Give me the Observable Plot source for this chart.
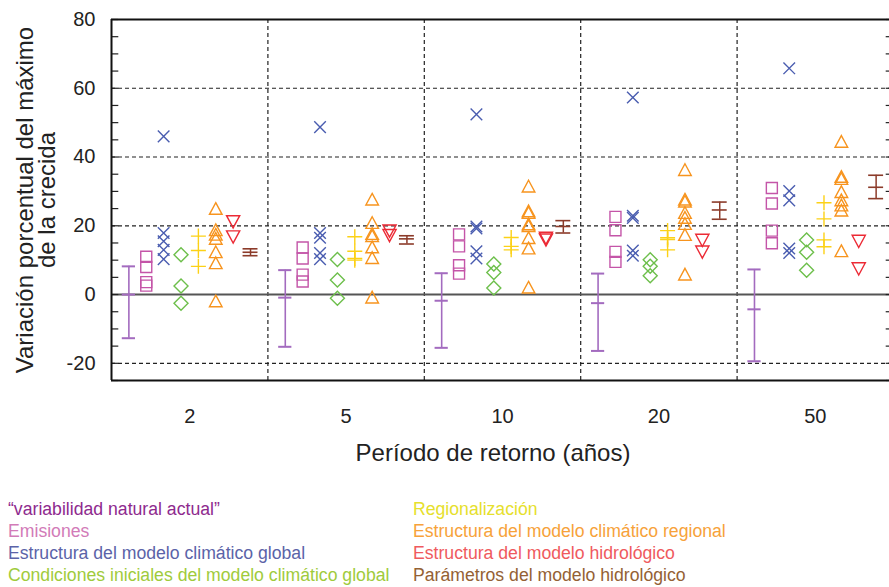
<!DOCTYPE html>
<html><head><meta charset="utf-8">
<script src="https://cdn.jsdelivr.net/npm/d3@7"></script>
<script src="https://cdn.jsdelivr.net/npm/@observablehq/plot@0.6"></script>
<style>
body{margin:0;background:#fff;}
#wrap{position:relative;width:889px;height:587px;overflow:hidden;font-family:"Liberation Sans",Arial,sans-serif;color:#222;}
#chart{position:absolute;left:0;top:0;}
#ylab{position:absolute;left:36px;top:200px;transform:translate(-50%,-50%) rotate(-90deg);white-space:nowrap;text-align:center;font-size:24px;line-height:22px;}
#xlab{position:absolute;left:493px;top:441px;transform:translateX(-50%);white-space:nowrap;font-size:24px;line-height:24px;}
.leg{position:absolute;top:498px;font-family:"Liberation Sans",Arial,sans-serif;font-size:18px;line-height:22px;white-space:nowrap;transform:scaleX(0.98);transform-origin:left top;}
</style></head><body>
<div id="wrap">
<div id="chart"></div>
<div id="ylab">Variación porcentual del máximo<br>de la crecida</div>
<div id="xlab">Período de retorno (años)</div>
<div class="leg" id="leg1" style="left:8px"></div>
<div class="leg" id="leg2" style="left:413px"></div>
</div>
<script>
// ---- data ----
const periods = ["2", "5", "10", "20", "50"];
const categories = [
  "\u201Cvariabilidad natural actual\u201D",
  "Emisiones",
  "Estructura del modelo climático global",
  "Condiciones iniciales del modelo climático global",
  "Regionalización",
  "Estructura del modelo climático regional",
  "Estructura del modelo hidrológico",
  "Parámetros del modelo hidrológico"
];
// [low, mean, high] per return period
const variabilidad = [[-12.7, 0, 8.2], [-15.2, -0.9, 7.1], [-15.5, -1.8, 6.2], [-16.4, -2.5, 6.1], [-19.4, -4.3, 7.3]];
const emisiones = [[11, 8, 3.6, 2.6], [13.7, 10.5, 5.8, 3.8], [17.5, 14, 8.5, 6.1], [22.6, 18.7, 12.4, 9.5], [31, 26.5, 18.6, 14.9]];
const gcmEstructura = [[46, 17.9, 15.5, 13, 10.3], [48.7, 17.9, 16.5, 12.1, 10.3], [52.4, 19.8, 19.2, 12.6, 10.5], [57.3, 22.9, 22.3, 12.8, 11.3], [65.8, 30.1, 27.4, 13.4, 12.1]];
const gcmInicial = [[11.6, 2.5, -2.5], [10.2, 4.2, -1.1], [8.9, 6.4, 1.9], [10.1, 8.2, 5.5], [15.9, 12.3, 7.1]];
const regionalizacion = [[17, 12.8, 8.2], [16.8, 12.6, 10.5, 10], [16.6, 14, 13], [18.6, 16.5, 16, 13], [26.7, 22, 15.9, 13.9]];
const rcmEstructura = [[24.9, 18.7, 17.4, 16.2, 12.3, 9.1, -2.0], [27.6, 20.8, 17.6, 17.0, 13.7, 10.6, -0.9], [31.4, 24.2, 23.7, 20.4, 19.9, 16.4, 13.4, 2.0], [36.2, 27.6, 27.0, 23.7, 22.3, 20.5, 17.3, 5.8], [44.4, 34.2, 33.6, 29.8, 27.4, 25.9, 24.4, 12.6]];
const hidroEstructura = [[21.3, 16.9], [18.6, 17.3], [16.5, 16.0], [15.9, 12.5], [15.6, 7.6]];
// [low, mean, high]
const hidroParametros = [[11.3, 12.3, 13.3], [14.7, 16.2, 17.1], [17.9, 19.8, 21.5], [21.9, 24.6, 26.9], [27.9, 31.2, 34.7]];

const yTicks = [-20, 0, 20, 40, 60, 80];
const yMinor = [-25, -20, -15, -10, -5, 0, 5, 10, 15, 20, 25, 30, 35, 40, 45, 50, 55, 60, 65, 70, 75, 80];
const yGrid = [-20, 20, 40, 60];

// ---- styling ----
const colors = ["#a36bbf", "#c455a8", "#4a5db0", "#6dbf4b", "#fcd116", "#f7941e", "#ec2a35", "#8c3b2a"];
const legendColors = ["#8e2a8e", "#d27bb8", "#5b63a8", "#9fcb3c", "#e6e02c", "#f7a23a", "#ef5a5e", "#946134"];

const SLOTS = 9; // 8 categories + gap per return period
const pos = (g, k) => g * SLOTS + k + 1;
const xMax = periods.length * SLOTS;
const tickPos = periods.map((p, i) => i * SLOTS + SLOTS / 2);
const sepPos = periods.slice(1).map((p, i) => (i + 1) * SLOTS);

function h(s) { return Math.sqrt(s / Math.PI); }
const sym = {
  square: {draw(c, s) { const r = h(s); c.rect(-r, -r, 2 * r, 2 * r); }},
  times: {draw(c, s) { const r = h(s); c.moveTo(-r, -r); c.lineTo(r, r); c.moveTo(r, -r); c.lineTo(-r, r); }},
  diamond: {draw(c, s) { const r = h(s); c.moveTo(0, -r); c.lineTo(r, 0); c.lineTo(0, r); c.lineTo(-r, 0); c.closePath(); }},
  plus: {draw(c, s) { const r = h(s); c.moveTo(-r, 0); c.lineTo(r, 0); c.moveTo(0, -r); c.lineTo(0, r); }},
  up: {draw(c, s) { const r = h(s); c.moveTo(0, -r); c.lineTo(r, r * 0.85); c.lineTo(-r, r * 0.85); c.closePath(); }},
  down: {draw(c, s) { const r = h(s); c.moveTo(0, r); c.lineTo(r, -r * 0.85); c.lineTo(-r, -r * 0.85); c.closePath(); }}
};

function points(arr, k) {
  const out = [];
  arr.forEach((vals, g) => vals.forEach(v => out.push({x: pos(g, k), y: v})));
  return out;
}
function bars(arr, k) {
  return arr.map((v, g) => ({x: pos(g, k), lo: v[0], mid: v[1], hi: v[2]}));
}
function caps(arr, k) {
  const out = [];
  arr.forEach((v, g) => v.forEach(y => out.push({x: pos(g, k), y})));
  return out;
}

const dotSpec = [
  [emisiones, 1, sym.square, 5.5],
  [gcmEstructura, 2, sym.times, 5.8],
  [gcmInicial, 3, sym.diamond, 7],
  [regionalizacion, 4, sym.plus, 7.5],
  [rcmEstructura, 5, sym.up, 6.3],
  [hidroEstructura, 6, sym.down, 6.6]
];

const marks = [
  Plot.ruleY(yGrid, {x1: 0, x2: xMax, stroke: "#222", strokeWidth: 1.2, strokeDasharray: "4,3"}),
  Plot.ruleX(sepPos, {y1: -25, y2: 80, stroke: "#222", strokeWidth: 1.2, strokeDasharray: "4,3"}),
  Plot.ruleY([0], {x1: 0, x2: xMax, stroke: "#555", strokeWidth: 2}),
  Plot.ruleY(yMinor, {x1: 0, x2: 0.42, stroke: "#222", strokeWidth: 1.2}),
  Plot.ruleY(yMinor, {x1: xMax - 0.42, x2: xMax, stroke: "#222", strokeWidth: 1.2}),
  Plot.ruleY([-25, 80], {x1: 0, x2: xMax, stroke: "#111", strokeWidth: 2}),
  Plot.ruleX([0], {y1: -25, y2: 80, stroke: "#111", strokeWidth: 2}),
  // natural variability error bars
  Plot.ruleX(bars(variabilidad, 0), {x: "x", y1: "lo", y2: "hi", stroke: colors[0], strokeWidth: 1.6}),
  Plot.ruleY(caps(variabilidad, 0), {y: "y", x1: d => d.x - 0.38, x2: d => d.x + 0.38, stroke: colors[0], strokeWidth: 2}),
  // hydrological parameter error bars
  Plot.ruleX(bars(hidroParametros, 7), {x: "x", y1: "lo", y2: "hi", stroke: colors[7], strokeWidth: 1.5}),
  Plot.ruleY(caps(hidroParametros, 7), {y: "y", x1: d => d.x - 0.43, x2: d => d.x + 0.43, stroke: colors[7], strokeWidth: 1.6}),
  ...dotSpec.map(([arr, k, s, r]) => Plot.dot(points(arr, k), {x: "x", y: "y", symbol: s, r, fill: "none", stroke: colors[k], strokeWidth: 1.4}))
];

const chart = Plot.plot({
  width: 889,
  height: 480,
  marginTop: 19,
  marginLeft: 111,
  marginRight: 0,
  marginBottom: 100,
  style: {fontSize: "20px", fontFamily: "'Liberation Sans', Arial, sans-serif", color: "#222", background: "#fff", overflow: "visible"},
  x: {domain: [0, xMax], range: [111, 893], ticks: tickPos, tickFormat: d => periods[tickPos.indexOf(d)], tickSize: 0, tickPadding: 28, label: null},
  y: {domain: [-25, 80], range: [380, 19], ticks: yTicks, tickFormat: d => String(d), tickSize: 0, tickPadding: 16, label: null},
  marks
});
document.getElementById("chart").appendChild(chart);

const leg1 = document.getElementById("leg1"), leg2 = document.getElementById("leg2");
categories.forEach((c, i) => {
  const d = document.createElement("div");
  d.textContent = c;
  d.style.color = legendColors[i];
  (i < 4 ? leg1 : leg2).appendChild(d);
});
</script>
</body></html>
